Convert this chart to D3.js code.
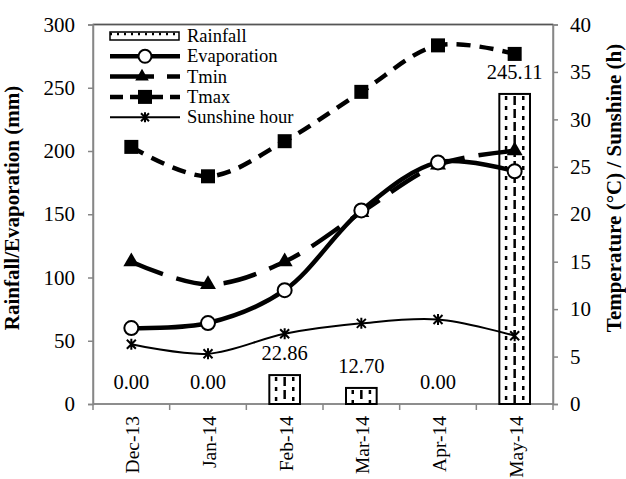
<!DOCTYPE html>
<html>
<head>
<meta charset="utf-8">
<script src="https://cdn.jsdelivr.net/npm/d3@7"></script>
<style>
  body { margin: 0; background: #fff; }
  svg text { font-family: "Liberation Serif", "Times New Roman", serif; fill: #000; }
</style>
</head>
<body>
<div id="chart"></div>
<script>
// data
const months = ['Dec-13', 'Jan-14', 'Feb-14', 'Mar-14', 'Apr-14', 'May-14']
const rainfall = [0, 0, 22.86, 12.70, 0, 245.11]
const evaporation = [60, 64, 90, 153, 191, 184]
const tmin = [15, 12.6, 15, 20.2, 25.2, 26.7]
const tmax = [27.1, 24, 27.7, 32.9, 37.8, 36.9]
const sunshine = [6.3, 5.3, 7.4, 8.5, 8.9, 7.2]
const leftTicks = [0, 50, 100, 150, 200, 250, 300]
const rightTicks = [0, 5, 10, 15, 20, 25, 30, 35, 40]

const W = 626, H = 479
const m = { left: 93, right: 553, top: 24.5, bottom: 404 }
const serif = '"Liberation Serif", "Times New Roman", serif'

const svg = d3.select('#chart').append('svg')
  .attr('width', W).attr('height', H)
  .attr('font-family', serif)

const x = d3.scaleBand().domain(months).range([m.left, m.right])
const yL = d3.scaleLinear().domain([0, 300]).range([m.bottom, m.top])
const yR = d3.scaleLinear().domain([0, 40]).range([m.bottom, m.top])
const cx = d => x(d) + x.bandwidth() / 2
const axisCol = '#868686'

// plot border
svg.append('rect')
  .attr('x', m.left).attr('y', m.top)
  .attr('width', m.right - m.left).attr('height', m.bottom - m.top)
  .attr('fill', 'none').attr('stroke', axisCol).attr('stroke-width', 1.5)
svg.append('line')
  .attr('x1', m.left).attr('x2', m.right).attr('y1', m.top).attr('y2', m.top)
  .attr('stroke', '#555').attr('stroke-width', 1.5)

// left axis
const gl = svg.append('g').attr('transform', `translate(${m.left},0)`)
  .call(d3.axisLeft(yL).tickValues(leftTicks).tickSize(5).tickPadding(13))
gl.attr('font-family', serif).attr('font-size', null)
gl.select('.domain').attr('stroke', axisCol).attr('stroke-width', 1.5)
gl.selectAll('.tick line').attr('stroke', axisCol).attr('stroke-width', 1.5)
gl.selectAll('.tick text').style('font-size', '21px')

// right axis
const gr = svg.append('g').attr('transform', `translate(${m.right},0)`)
  .call(d3.axisRight(yR).tickValues(rightTicks).tickSize(5).tickPadding(12))
gr.attr('font-family', serif).attr('font-size', null)
gr.select('.domain').attr('stroke', axisCol).attr('stroke-width', 1.5)
gr.selectAll('.tick line').attr('stroke', axisCol).attr('stroke-width', 1.5)
gr.selectAll('.tick text').style('font-size', '21px')

// bottom axis: ticks between categories
const xb = svg.append('g')
xb.append('line')
  .attr('x1', m.left).attr('x2', m.right).attr('y1', m.bottom).attr('y2', m.bottom)
  .attr('stroke', axisCol).attr('stroke-width', 1.5)
xb.selectAll('.sep').data(months.concat(['end']))
  .enter().append('line')
  .attr('x1', (d, i) => i < months.length ? x(d) : m.right)
  .attr('x2', (d, i) => i < months.length ? x(d) : m.right)
  .attr('y1', m.bottom).attr('y2', m.bottom + 6)
  .attr('stroke', axisCol).attr('stroke-width', 1.5)
xb.selectAll('.lab').data(months)
  .enter().append('text')
  .attr('transform', d => `translate(${cx(d) + 8},${m.bottom + 12}) rotate(-90)`)
  .attr('text-anchor', 'end')
  .style('font-size', '19.5px')
  .text(d => d)

// axis titles
svg.append('text')
  .attr('transform', 'translate(19,208) rotate(-90)')
  .attr('text-anchor', 'middle')
  .style('font-size', '21px').style('font-weight', 'bold')
  .text('Rainfall/Evaporation (mm)')
svg.append('text')
  .attr('transform', 'translate(621,188) rotate(-90)')
  .attr('text-anchor', 'middle')
  .style('font-size', '21px').style('font-weight', 'bold')
  .text('Temperature (°C) / Sunshine (h)')

// rainfall bars with dashed vertical fill
const barW = x.bandwidth() * 0.4
const bars = svg.append('g')
const rain = months.map((d, i) => ({ m: d, v: rainfall[i] }))
function drawBar (g, x0, y0, w, h) {
  g.append('rect').attr('x', x0).attr('y', y0).attr('width', w).attr('height', h)
    .attr('fill', '#fff').attr('stroke', '#000').attr('stroke-width', 2)
  const fills = [[0.22, '4,6'], [0.5, '9,4'], [0.78, '4,6']]
  fills.forEach(f => {
    g.append('line')
      .attr('x1', x0 + w * f[0]).attr('x2', x0 + w * f[0])
      .attr('y1', y0 + 2).attr('y2', y0 + h)
      .attr('stroke', '#000').attr('stroke-width', 2.5)
      .attr('stroke-dasharray', f[1])
  })
}
rain.filter(d => d.v > 0).forEach(d => {
  drawBar(bars, cx(d.m) - barW / 2, yL(d.v), barW, yL(0) - yL(d.v))
})
bars.selectAll('.val').data(rain)
  .enter().append('text')
  .attr('x', d => cx(d.m))
  .attr('y', d => yL(d.v) - 15)
  .attr('text-anchor', 'middle')
  .style('font-size', '20.5px')
  .text(d => d.v.toFixed(2))

// lines
const curve = d3.curveCatmullRom.alpha(0.5)
function series (vals, scale) {
  return months.map((d, i) => [cx(d), scale(vals[i])])
}
const line = d3.line().curve(curve)

const evapPts = series(evaporation, yL)
const tminPts = series(tmin, yR)
const tmaxPts = series(tmax, yR)
const sunPts = series(sunshine, yR)

svg.append('path').attr('d', line(sunPts))
  .attr('fill', 'none').attr('stroke', '#000').attr('stroke-width', 2)
svg.append('path').attr('d', line(tmaxPts))
  .attr('fill', 'none').attr('stroke', '#000').attr('stroke-width', 4.5)
  .attr('stroke-dasharray', '14,9')
svg.append('path').attr('d', line(tminPts))
  .attr('fill', 'none').attr('stroke', '#000').attr('stroke-width', 4.5)
  .attr('stroke-dasharray', '34,14')
svg.append('path').attr('d', line(evapPts))
  .attr('fill', 'none').attr('stroke', '#000').attr('stroke-width', 4.5)

// markers
function asterisk (g, px, py, s) {
  g.append('path')
    .attr('d', `M${px - s},${py - s}L${px + s},${py + s}M${px - s},${py + s}L${px + s},${py - s}M${px},${py - s - 1}L${px},${py + s + 1}`)
    .attr('stroke', '#000').attr('stroke-width', 2).attr('fill', 'none')
}
sunPts.forEach(p => asterisk(svg, p[0], p[1], 4.5))
svg.selectAll('.sq').data(tmaxPts).enter().append('rect')
  .attr('x', d => d[0] - 7).attr('y', d => d[1] - 7)
  .attr('width', 14).attr('height', 14).attr('fill', '#000')
svg.selectAll('.tri').data(tminPts).enter().append('path')
  .attr('transform', d => `translate(${d[0]},${d[1]})`)
  .attr('d', d3.symbol(d3.symbolTriangle, 110))
  .attr('fill', '#000')
svg.selectAll('.circ').data(evapPts).enter().append('circle')
  .attr('cx', d => d[0]).attr('cy', d => d[1]).attr('r', 7)
  .attr('fill', '#fff').attr('stroke', '#000').attr('stroke-width', 2)

// legend
const lg = svg.append('g')
const lx0 = 110, lx1 = 180, ltx = 187
const legendRows = ['Rainfall', 'Evaporation', 'Tmin', 'Tmax', 'Sunshine hour']
const ly = legendRows.map((d, i) => 36 + i * 20.3)
lg.append('rect').attr('x', lx0).attr('y', ly[0] - 4).attr('width', lx1 - lx0 - 1).attr('height', 8)
  .attr('fill', '#fff').attr('stroke', '#000').attr('stroke-width', 1.5)
lg.append('line').attr('x1', lx0).attr('x2', lx1 - 1).attr('y1', ly[0] - 2).attr('y2', ly[0] - 2)
  .attr('stroke', '#000').attr('stroke-width', 2.5).attr('stroke-dasharray', '2,5')
// evaporation
lg.append('line').attr('x1', lx0).attr('x2', lx1).attr('y1', ly[1]).attr('y2', ly[1])
  .attr('stroke', '#000').attr('stroke-width', 4.5)
lg.append('circle').attr('cx', (lx0 + lx1) / 2).attr('cy', ly[1]).attr('r', 6.5)
  .attr('fill', '#fff').attr('stroke', '#000').attr('stroke-width', 2)
// tmin
lg.append('line').attr('x1', lx0).attr('x2', lx1).attr('y1', ly[2]).attr('y2', ly[2])
  .attr('stroke', '#000').attr('stroke-width', 4.5).attr('stroke-dasharray', '44,13')
lg.append('path').attr('transform', `translate(${(lx0 + lx1) / 2 - 3},${ly[2]})`)
  .attr('d', d3.symbol(d3.symbolTriangle, 80)).attr('fill', '#000')
// tmax
lg.append('line').attr('x1', lx0).attr('x2', lx1).attr('y1', ly[3]).attr('y2', ly[3])
  .attr('stroke', '#000').attr('stroke-width', 4.5).attr('stroke-dasharray', '13,7')
lg.append('rect').attr('x', (lx0 + lx1) / 2 - 7).attr('y', ly[3] - 7)
  .attr('width', 14).attr('height', 14).attr('fill', '#000')
// sunshine
lg.append('line').attr('x1', lx0).attr('x2', lx1).attr('y1', ly[4]).attr('y2', ly[4])
  .attr('stroke', '#000').attr('stroke-width', 2)
asterisk(lg, (lx0 + lx1) / 2, ly[4], 4)
lg.selectAll('.lt').data(legendRows).enter().append('text')
  .attr('x', ltx).attr('y', (d, i) => ly[i] + 6)
  .style('font-size', '18.5px')
  .text(d => d)
</script>
</body>
</html>
